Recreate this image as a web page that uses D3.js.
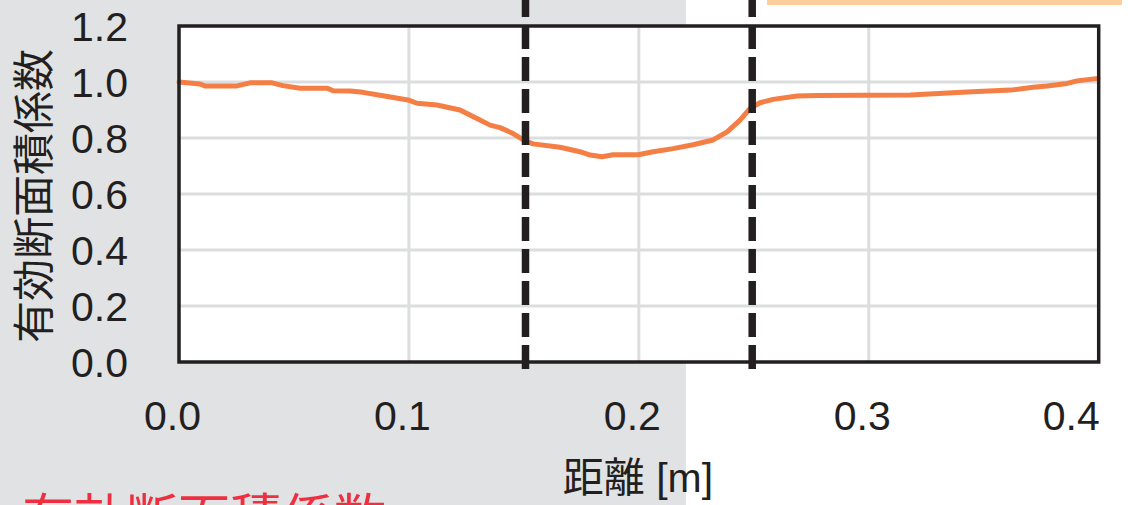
<!DOCTYPE html>
<html>
<head>
<meta charset="utf-8">
<script src="https://cdn.jsdelivr.net/npm/d3@7"></script>
<style>
  html, body { margin: 0; padding: 0; background: #ffffff; overflow: hidden; }
  svg { display: block; }
</style>
</head>
<body>
<div id="chart"></div>
<script>
// ---- data ----
const distance = [0.000, 0.0091, 0.0113, 0.0252, 0.0309, 0.0405, 0.0452, 0.0526, 0.0644, 0.0670,
  0.0744, 0.0800, 0.0887, 0.0996, 0.1035, 0.1122, 0.1222, 0.1309, 0.1353, 0.1396,
  0.1448, 0.1505, 0.1540, 0.1657, 0.1744, 0.1788, 0.1840, 0.1888, 0.1997, 0.2062,
  0.2149, 0.2236, 0.2323, 0.2384, 0.2440, 0.2484, 0.2527, 0.2584, 0.2688, 0.2775,
  0.3180, 0.3428, 0.3615, 0.3715, 0.3776, 0.3863, 0.3906, 0.3997];
const coefficient = [1.000, 0.993, 0.986, 0.986, 0.997, 0.997, 0.987, 0.978, 0.978, 0.969,
  0.968, 0.963, 0.951, 0.936, 0.924, 0.918, 0.900, 0.864, 0.846, 0.837,
  0.818, 0.790, 0.779, 0.767, 0.751, 0.739, 0.733, 0.740, 0.740, 0.751,
  0.762, 0.776, 0.793, 0.822, 0.864, 0.906, 0.926, 0.938, 0.950, 0.952,
  0.954, 0.964, 0.971, 0.981, 0.986, 0.995, 1.004, 1.013];
const boundaries = [0.1507, 0.2493];
const xTicks = [0.0, 0.1, 0.2, 0.3, 0.4];
const yTicks = [0.0, 0.2, 0.4, 0.6, 0.8, 1.0, 1.2];
const xTitle = "距離 [m]";
const yTitle = "有効断面積係数";
const footerText = "有効断面積係数";

// ---- layout ----
const W = 1128, H = 505;
const plot = { left: 179, right: 1098.7, top: 26, bottom: 362 };
const INK = "#231F20";
const LATIN = "'Liberation Sans', Arial, 'Noto Sans CJK JP', sans-serif";
const CJK = "'Noto Sans CJK JP', 'Noto Sans CJK SC', sans-serif";

const svg = d3.select("#chart").append("svg").attr("width", W).attr("height", H);

// backgrounds
svg.append("rect").attr("x", 0).attr("y", 0).attr("width", W).attr("height", H).attr("fill", "#ffffff");
svg.append("rect").attr("x", 0).attr("y", 0).attr("width", 686).attr("height", H).attr("fill", "#E1E2E4");
svg.append("rect").attr("x", 767).attr("y", 0).attr("width", 355).attr("height", 5).attr("fill", "#FBCE9C");

const x = d3.scaleLinear().domain([0, 0.4]).range([plot.left, plot.right]);
const y = d3.scaleLinear().domain([0, 1.2]).range([plot.bottom, plot.top]);

// plot area
svg.append("rect").attr("x", plot.left).attr("y", plot.top)
  .attr("width", plot.right - plot.left).attr("height", plot.bottom - plot.top).attr("fill", "#ffffff");

// gridlines
svg.append("g").selectAll("line").data(yTicks.slice(1, -1)).join("line")
  .attr("x1", plot.left).attr("x2", plot.right)
  .attr("y1", d => y(d)).attr("y2", d => y(d))
  .attr("stroke", "#DCDDDF").attr("stroke-width", 3);
svg.append("g").selectAll("line").data(xTicks.slice(1, -1)).join("line")
  .attr("y1", plot.top).attr("y2", plot.bottom)
  .attr("x1", d => x(d)).attr("x2", d => x(d))
  .attr("stroke", "#DCDDDF").attr("stroke-width", 3);

// data line
const pts = distance.map((d, i) => [d, coefficient[i]]);
svg.append("path").datum(pts)
  .attr("d", d3.line().x(d => x(d[0])).y(d => y(d[1])))
  .attr("fill", "none").attr("stroke", "#F57E44").attr("stroke-width", 5)
  .attr("stroke-linejoin", "round").attr("stroke-linecap", "round");

// border
svg.append("rect").attr("x", plot.left).attr("y", plot.top)
  .attr("width", plot.right - plot.left).attr("height", plot.bottom - plot.top)
  .attr("fill", "none").attr("stroke", INK).attr("stroke-width", 3.5);

// dashed boundary lines
svg.append("g").selectAll("line").data(boundaries).join("line")
  .attr("x1", d => x(d)).attr("x2", d => x(d))
  .attr("y1", -7).attr("y2", 369)
  .attr("stroke", INK).attr("stroke-width", 7.5).attr("stroke-dasharray", "24,8");

// y axis
const yAxis = svg.append("g").attr("transform", `translate(${plot.left},0)`)
  .call(d3.axisLeft(y).tickValues(yTicks).tickSize(0).tickPadding(51).tickFormat(d3.format(".1f")));
yAxis.select(".domain").remove();
yAxis.selectAll("text").attr("font-family", LATIN).attr("font-size", 41).attr("fill", INK)
  .attr("dy", "0.36em");

// x axis
const xAxis = svg.append("g").attr("transform", `translate(0,${plot.bottom})`)
  .call(d3.axisBottom(x).tickValues(xTicks).tickSize(0).tickPadding(0).tickFormat(d3.format(".1f")));
xAxis.select(".domain").remove();
xAxis.selectAll("text").attr("font-family", LATIN).attr("font-size", 41).attr("fill", INK)
  .attr("y", 68).attr("dy", 0).attr("x", (d, i) => i === xTicks.length - 1 ? -28 : -7);

// axis titles
svg.append("text").attr("x", 638).attr("y", 492).attr("text-anchor", "middle")
  .attr("font-family", LATIN).attr("font-size", 41).attr("fill", INK).text(xTitle);
svg.append("text").attr("transform", "translate(30,196) rotate(-90)")
  .attr("text-anchor", "middle").attr("dominant-baseline", "central")
  .attr("font-family", CJK).attr("font-size", 42).attr("fill", INK).text(yTitle);

// red footer text (cut off at bottom)
svg.append("text").attr("x", 22).attr("y", 537)
  .attr("font-family", CJK).attr("font-size", 52).attr("fill", "#ED2F3F").text(footerText);
</script>
</body>
</html>
